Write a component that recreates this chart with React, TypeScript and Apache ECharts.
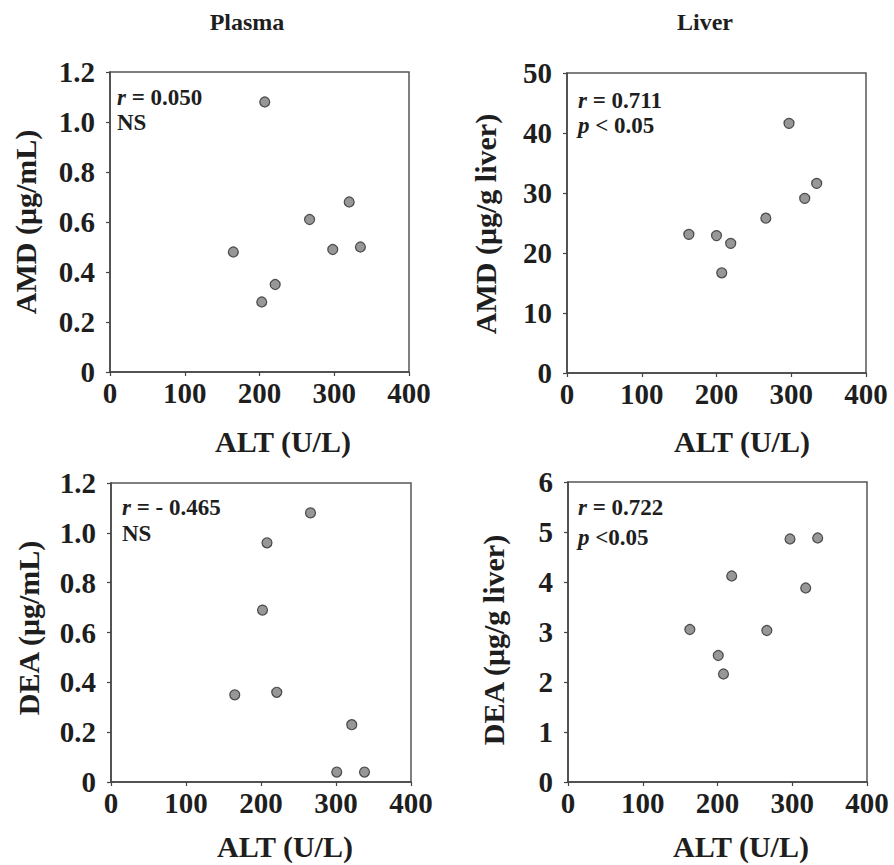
import React, { useEffect, useRef } from "react";
import * as echarts from "echarts";

// ---- data ----
const panelTitles = ["Plasma", "Liver"];
const xAxisName = "ALT (U/L)";
const yAxisNames = ["AMD (μg/mL)", "AMD (μg/g liver)", "DEA (μg/mL)", "DEA (μg/g liver)"];

const xTicks = [0, 100, 200, 300, 400];
const yPlasmaTicks = [0, 0.2, 0.4, 0.6, 0.8, 1.0, 1.2];
const yLiverAMDTicks = [0, 10, 20, 30, 40, 50];
const yLiverDEATicks = [0, 1, 2, 3, 4, 5, 6];

const altPlasmaAMD = [165, 203, 207, 221, 267, 298, 320, 335];
const plasmaAMD = [0.48, 0.28, 1.08, 0.35, 0.61, 0.49, 0.68, 0.5];

const altLiverAMD = [163, 200, 207, 219, 266, 297, 318, 334];
const liverAMD = [23.1, 22.9, 16.7, 21.6, 25.8, 41.6, 29.1, 31.6];

const altPlasmaDEA = [165, 202, 208, 221, 266, 301, 321, 338];
const plasmaDEA = [0.35, 0.69, 0.96, 0.36, 1.08, 0.04, 0.23, 0.04];

const altLiverDEA = [163, 201, 208, 219, 266, 297, 318, 334];
const liverDEA = [3.05, 2.53, 2.16, 4.12, 3.03, 4.86, 3.88, 4.88];

const statR = ["0.050", "0.711", "- 0.465", "0.722"];
const statSig = ["NS", "p < 0.05", "NS", "p <0.05"];

const FONT = "Liberation Serif";
const TXT = "#1e1e1e";
const AX = "#444";

export default function App() {
  const ref = useRef<HTMLDivElement>(null);

  useEffect(() => {
    if (!ref.current) return;
    const chart = echarts.init(ref.current, undefined, { renderer: "svg" });

    const grids = [
      { left: 110, top: 72, width: 299, height: 300 },
      { left: 567, top: 73, width: 299, height: 300 },
      { left: 111, top: 483, width: 300, height: 299 },
      { left: 568, top: 482, width: 299, height: 300 },
    ];
    const yRanges = [yPlasmaTicks, yLiverAMDTicks, yPlasmaTicks, yLiverDEATicks];
    const xs = [altPlasmaAMD, altLiverAMD, altPlasmaDEA, altLiverDEA];
    const ys = [plasmaAMD, liverAMD, plasmaDEA, liverDEA];

    const axisCommon = {
      axisLine: { show: true, lineStyle: { color: AX, width: 1.5 } },
      axisTick: { show: true, inside: false, length: 4, lineStyle: { color: AX, width: 1.2 } },
      splitLine: { show: false },
      axisLabel: { color: TXT, fontFamily: FONT, fontWeight: "bold" as const, fontSize: 29 },
    };

    const xAxis = grids.map((_, i) => ({
      type: "value" as const,
      gridIndex: i,
      min: xTicks[0],
      max: xTicks[xTicks.length - 1],
      interval: xTicks[1] - xTicks[0],
      ...axisCommon,
      axisLabel: { ...axisCommon.axisLabel, margin: 6 },
    }));

    const yAxis = grids.map((_, i) => {
      const t = yRanges[i];
      const dec = t[1] < 1 ? 1 : 0;
      return {
        type: "value" as const,
        gridIndex: i,
        min: t[0],
        max: t[t.length - 1],
        interval: t[1] - t[0],
        ...axisCommon,
        axisLabel: {
          ...axisCommon.axisLabel,
          margin: 15,
          formatter: (v: number) => (v === 0 ? "0" : v.toFixed(dec)),
        },
      };
    });

    const series = grids.map((_, i) => ({
      type: "scatter" as const,
      xAxisIndex: i,
      yAxisIndex: i,
      symbol: "circle",
      symbolSize: 10,
      itemStyle: { color: "#7d7d7d", borderColor: "#2a2a2a", borderWidth: 1.2 },
      data: xs[i].map((x, k) => [x, ys[i][k]]),
    }));

    const txt = (text: string, x: number, y: number, size: number) => ({
      type: "text" as const,
      x,
      y,
      style: {
        text,
        fill: TXT,
        fontFamily: FONT,
        fontWeight: "bold",
        fontSize: size,
        align: "center",
        verticalAlign: "middle",
      },
    });

    const graphic: any[] = [
      txt(panelTitles[0], 247, 22, 24),
      txt(panelTitles[1], 705, 22, 24),
      txt(xAxisName, 283, 441, 30),
      txt(xAxisName, 742, 441, 30),
      txt(xAxisName, 285, 846, 30),
      txt(xAxisName, 741, 846, 30),
      { ...txt(yAxisNames[0], 25, 222, 30), rotation: Math.PI / 2 },
      { ...txt(yAxisNames[1], 485, 224, 30), rotation: Math.PI / 2 },
      { ...txt(yAxisNames[2], 28, 628, 30), rotation: Math.PI / 2 },
      { ...txt(yAxisNames[3], 493, 640, 30), rotation: Math.PI / 2 },
    ];

    const annPos = [
      [117, 97, 122],
      [578, 100, 125],
      [122, 507, 533],
      [578, 507, 537],
    ];
    const FS = 23;
    const rich = {
      i: { fontStyle: "italic", fontWeight: "bold", fontFamily: FONT, fontSize: FS, fill: TXT },
      b: { fontWeight: "bold", fontFamily: FONT, fontSize: FS, fill: TXT },
    };
    annPos.forEach(([x, y1, y2], i) => {
      graphic.push({
        type: "text",
        x,
        y: y1,
        style: {
          text: `{i|r}{b| = ${statR[i]}}`,
          rich,
          align: "left",
          verticalAlign: "middle",
          fontFamily: FONT,
          fontWeight: "bold",
          fontSize: FS,
          fill: TXT,
        },
      });
      const s = statSig[i];
      const t = s.startsWith("p") ? `{i|p}{b|${s.slice(1)}}` : `{b|${s}}`;
      graphic.push({
        type: "text",
        x,
        y: y2,
        style: {
          text: t,
          rich,
          align: "left",
          verticalAlign: "middle",
          fontFamily: FONT,
          fontWeight: "bold",
          fontSize: FS,
          fill: TXT,
        },
      });
    });

    chart.setOption({
      animation: false,
      backgroundColor: "#ffffff",
      textStyle: { fontFamily: FONT },
      grid: grids.map((g) => ({ ...g, show: true, borderColor: "#555", borderWidth: 1.5, backgroundColor: "transparent" })),
      xAxis,
      yAxis,
      series,
      graphic,
    });

    return () => chart.dispose();
  }, []);

  return (
    <div
      ref={ref}
      style={{ position: "absolute", left: 0, top: 0, width: 894, height: 865, background: "#fff" }}
    />
  );
}
